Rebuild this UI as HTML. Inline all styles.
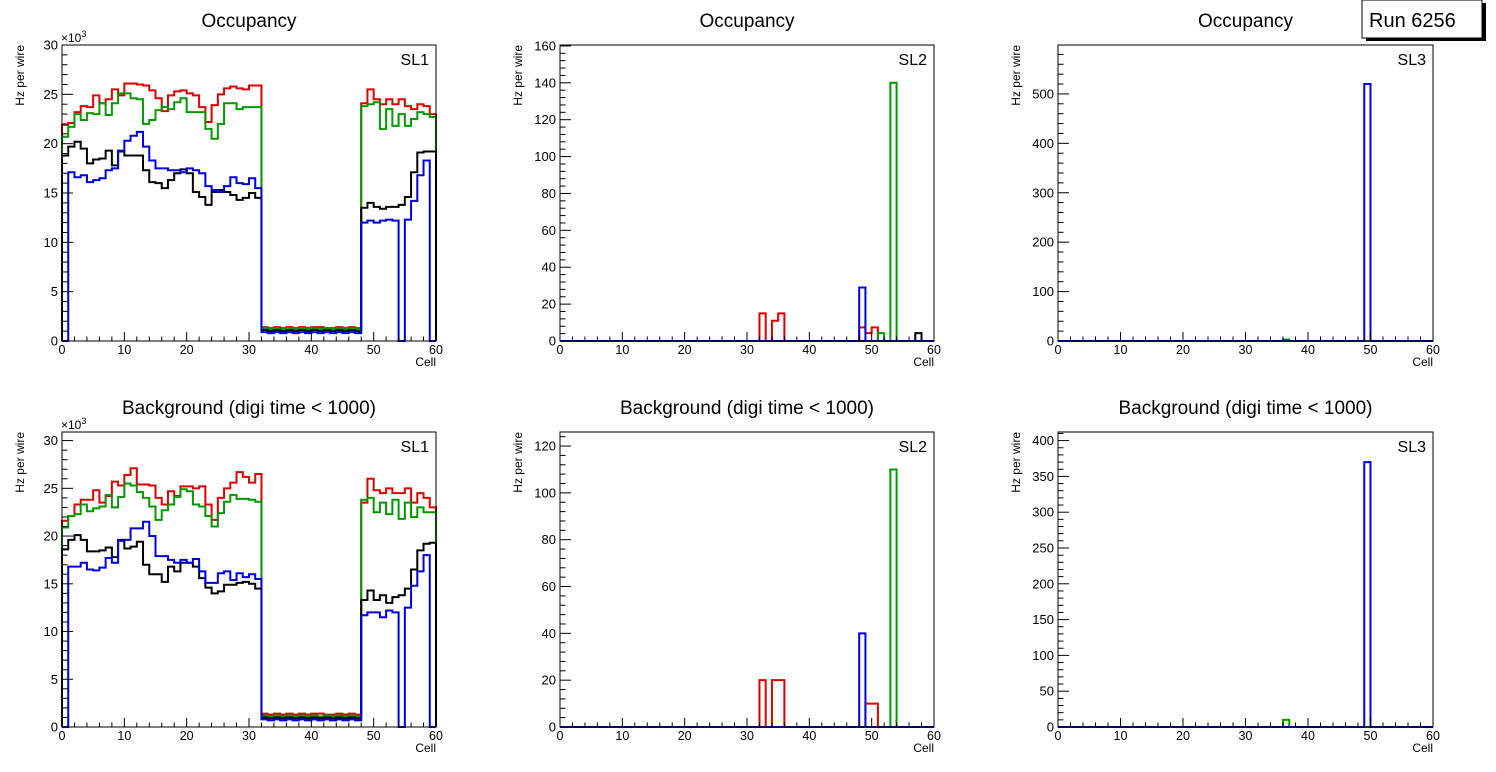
<!DOCTYPE html>
<html><head><meta charset="utf-8"><style>
body{margin:0;background:#fff;}
svg{display:block;font-family:"Liberation Sans",sans-serif;}
</style></head><body>
<svg id="c" width="1496" height="772" viewBox="0 0 1496 772"></svg>
<script>
const cells = 60;
// SL1 occupancy (x10^3 Hz)
const occSL1Red = [21.9,22.1,23.2,23.8,23.7,24.9,24.1,24.5,25.5,24.9,26.1,26.1,26.0,25.9,25.4,24.6,23.3,24.9,25.3,25.4,25.1,24.9,23.7,22.2,23.9,25.0,25.6,25.8,25.6,25.5,25.9,25.9,1.4,1.3,1.4,1.3,1.4,1.3,1.4,1.3,1.4,1.4,1.3,1.3,1.4,1.3,1.4,1.3,24.1,25.5,24.5,24.0,24.5,24.0,24.5,23.8,23.5,24.0,23.8,23.0];
const occSL1Green = [20.7,21.7,23.0,22.4,23.1,23.0,24.1,22.9,24.1,25.1,25.1,24.6,24.5,22.0,22.4,23.4,23.7,23.5,24.2,24.6,23.2,23.2,23.2,21.5,20.5,22.0,24.1,24.1,23.5,23.7,23.7,23.7,1.3,1.2,1.3,1.2,1.3,1.2,1.3,1.2,1.3,1.2,1.3,1.2,1.3,1.2,1.3,1.2,23.8,24.0,24.2,21.5,23.5,21.8,23.0,21.8,22.5,23.2,23.0,22.7];
const occSL1Black = [18.8,19.7,20.2,19.5,18.0,18.4,18.5,19.3,17.8,19.2,18.8,18.8,18.8,17.3,16.1,16.0,15.5,16.3,17.0,17.4,17.0,15.1,14.6,13.8,15.1,15.3,15.1,14.8,14.3,14.5,15.0,14.5,1.1,1.0,1.1,1.0,1.1,1.0,1.1,1.0,1.1,1.0,1.1,1.0,1.1,1.0,1.1,1.0,13.5,14.0,13.6,13.4,13.6,13.6,13.8,14.6,17.1,19.1,19.2,19.2];
const occSL1Blue = [0,17.1,16.6,16.8,16.1,16.3,16.5,17.3,17.5,19.3,20.3,20.8,21.2,19.7,18.3,17.5,17.5,17.3,17.3,17.1,17.5,17.3,17.0,15.7,15.3,15.1,15.7,16.6,16.0,15.9,16.5,15.5,0.9,0.8,0.9,0.8,0.9,0.8,0.9,0.8,0.9,0.8,0.9,0.8,0.9,0.8,0.9,0.8,12.0,12.2,12.0,12.2,12.3,12.2,0,12.3,14.2,16.8,18.3,0];
// SL1 background
const bkgSL1Red = [21.6,22.1,23.3,23.8,23.8,24.8,23.5,24.2,25.7,25.3,26.4,27.1,25.4,25.4,25.3,24.0,23.3,24.7,24.2,25.2,25.2,25.0,25.2,23.3,21.7,24.0,25.0,25.6,26.7,26.2,25.6,26.5,1.4,1.3,1.4,1.3,1.4,1.3,1.4,1.3,1.4,1.4,1.3,1.3,1.4,1.3,1.4,1.3,23.5,26.0,24.8,24.5,25.0,24.5,24.5,25.0,23.5,24.5,24.0,23.0];
const bkgSL1Green = [20.9,22.1,22.3,23.3,22.6,22.9,23.1,24.3,23.0,24.1,25.5,25.3,24.6,24.0,23.1,21.7,22.7,23.3,24.1,24.9,24.7,23.3,23.1,22.1,21.0,22.4,23.6,24.3,23.9,23.9,23.8,23.6,1.2,1.1,1.2,1.1,1.2,1.1,1.2,1.1,1.2,1.1,1.2,1.1,1.2,1.1,1.2,1.1,23.8,24.0,22.5,23.5,22.3,23.8,21.8,23.5,22.0,23.0,22.5,22.5];
const bkgSL1Black = [18.6,19.6,20.1,19.6,18.4,18.4,18.5,18.8,17.8,19.6,18.7,18.9,19.4,17.0,16.0,16.0,15.2,16.8,16.3,17.2,17.2,16.8,15.6,14.6,14.0,14.2,14.9,14.9,15.1,15.2,15.0,14.5,1.0,0.9,1.0,0.9,1.0,0.9,1.0,0.9,1.0,0.9,1.0,0.9,1.0,0.9,1.0,0.9,13.3,14.3,13.3,13.8,13.0,13.6,13.8,14.5,16.5,18.5,19.2,19.3];
const bkgSL1Blue = [0,16.8,16.8,17.2,16.5,16.4,16.7,17.7,17.2,19.5,19.6,20.8,20.8,21.5,20.0,17.9,17.9,17.5,17.2,17.5,17.2,17.6,16.3,15.1,15.1,16.1,16.3,15.4,16.1,15.7,16.0,15.5,0.8,0.7,0.8,0.7,0.8,0.7,0.8,0.7,0.8,0.7,0.8,0.7,0.8,0.7,0.8,0.7,11.7,12.0,12.0,11.5,12.2,12.0,0,12.5,14.8,16.3,18.0,0];
// SL2/SL3 sparse entries [cell, value]
const occSL2Red = [[32,15],[34,11],[35,15],[48,7.4],[49,4.3],[50,7.4]];
const occSL2Green = [[51,4.3],[53,140]];
const occSL2Black = [[57,4.3]];
const occSL2Blue = [[48,29]];
const bkgSL2Red = [[32,20],[34,20],[35,20],[49,10],[50,10]];
const bkgSL2Green = [[53,110]];
const bkgSL2Black = [];
const bkgSL2Blue = [[48,40]];
const occSL3Green = [[36,3]];
const occSL3Blue = [[49,520]];
const bkgSL3Green = [[36,10]];
const bkgSL3Blue = [[49,370]];
const xTicks = [0,10,20,30,40,50,60];

const NS="http://www.w3.org/2000/svg";
const svg=document.getElementById('c');
function el(tag,attrs,parent){const e=document.createElementNS(NS,tag);for(const k in attrs)e.setAttribute(k,attrs[k]);(parent||svg).appendChild(e);return e;}
function dense(sp){const a=new Array(cells).fill(0);sp.forEach(p=>a[p[0]]=p[1]);return a;}
const COL={red:"#dd0000",green:"#009900",black:"#000000",blue:"#0000dd"};

function panel(name,x0,x1,yt,yb,ymax,step,minor,title,sl,series,exp){
  const g=el('g',{});
  
  
  const sx=v=>x0+(x1-x0)*v/60, sy=v=>yb-(yb-yt)*v/ymax;
  const t=el('text',{x:(x0+x1)/2,y:yt-18,'text-anchor':'middle','font-size':19},g);t.textContent=title;
  
  series.forEach(s=>{
    let d='M'+sx(0)+','+sy(0);
    s.v.forEach((v,i)=>{d+=' L'+sx(i)+','+sy(v)+' L'+sx(i+1)+','+sy(v);});
    d+=' L'+sx(60)+','+sy(0);
    const p=el('path',{d:d,fill:'none',stroke:COL[s.c],'stroke-width':2},g);
    
    
  });
  el('rect',{x:x0,y:yt,width:x1-x0,height:yb-yt,fill:'none',stroke:'#000','stroke-width':1},g);
  for(let v=0;v<=60;v+=2){const big=v%10==0;el('line',{x1:sx(v),x2:sx(v),y1:yb,y2:yb-(big?9:4.5),stroke:'#000'},g);}
  xTicks.forEach(v=>{const l=el('text',{x:sx(v),y:yb+13,'text-anchor':'middle','font-size':12.5},g);l.textContent=v;
    });
  const xt=el('text',{x:x1,y:yb+25,'text-anchor':'end','font-size':12},g);xt.textContent='Cell';
  
  for(let v=0;v<=ymax+1e-9;v+=minor){const big=Math.abs(v/step-Math.round(v/step))<1e-6;el('line',{x1:x0,x2:x0+(big?11:5.5),y1:sy(v),y2:sy(v),stroke:'#000'},g);}
  for(let v=0;v<=ymax+1e-9;v+=step){const l=el('text',{x:x0-4,y:sy(v)+4.5,'text-anchor':'end','font-size':13},g);l.textContent=String(v);
    }
  const yl=el('text',{x:x0-38,y:yt,'text-anchor':'end','font-size':12,transform:'rotate(-90 '+(x0-38)+' '+yt+')'},g);
  yl.textContent='Hz per wire';
  
  if(exp){const e=el('text',{x:x0-1,y:yt-3,'font-size':12},g);e.innerHTML='×10<tspan dy="-5" font-size="9">3</tspan>';
    }
  const s=el('text',{x:x1-7,y:yt+20,'text-anchor':'end','font-size':16},g);s.textContent=sl;
  
}
panel('occupancy-sl1',62,436,45,341,30,5,1,'Occupancy','SL1',[{c:'red',v:occSL1Red},{c:'green',v:occSL1Green},{c:'black',v:occSL1Black},{c:'blue',v:occSL1Blue}],true);
panel('occupancy-sl2',560,934,45,341,160.5,20,4,'Occupancy','SL2',[{c:'red',v:dense(occSL2Red)},{c:'green',v:dense(occSL2Green)},{c:'black',v:dense(occSL2Black)},{c:'blue',v:dense(occSL2Blue)}],false);
panel('occupancy-sl3',1058,1433,45,341,599,100,20,'Occupancy','SL3',[{c:'green',v:dense(occSL3Green)},{c:'blue',v:dense(occSL3Blue)}],false);
panel('background-sl1',62,436,432,727,30.9,5,1,'Background (digi time < 1000)','SL1',[{c:'red',v:bkgSL1Red},{c:'green',v:bkgSL1Green},{c:'black',v:bkgSL1Black},{c:'blue',v:bkgSL1Blue}],true);
panel('background-sl2',560,934,432,727,126,20,4,'Background (digi time < 1000)','SL2',[{c:'red',v:dense(bkgSL2Red)},{c:'green',v:dense(bkgSL2Green)},{c:'black',v:dense(bkgSL2Black)},{c:'blue',v:dense(bkgSL2Blue)}],false);
panel('background-sl3',1058,1433,432,727,412,50,10,'Background (digi time < 1000)','SL3',[{c:'green',v:dense(bkgSL3Green)},{c:'blue',v:dense(bkgSL3Blue)}],false);
const rb=el('g',{});


el('rect',{x:1366,y:3,width:120,height:38,fill:'#000'},rb);
el('rect',{x:1362,y:0,width:120,height:38,fill:'#fff',stroke:'#000','stroke-width':1},rb);
const rt=el('text',{x:1369,y:27,'font-size':20},rb);rt.textContent='Run 6256';
</script>
</body></html>
